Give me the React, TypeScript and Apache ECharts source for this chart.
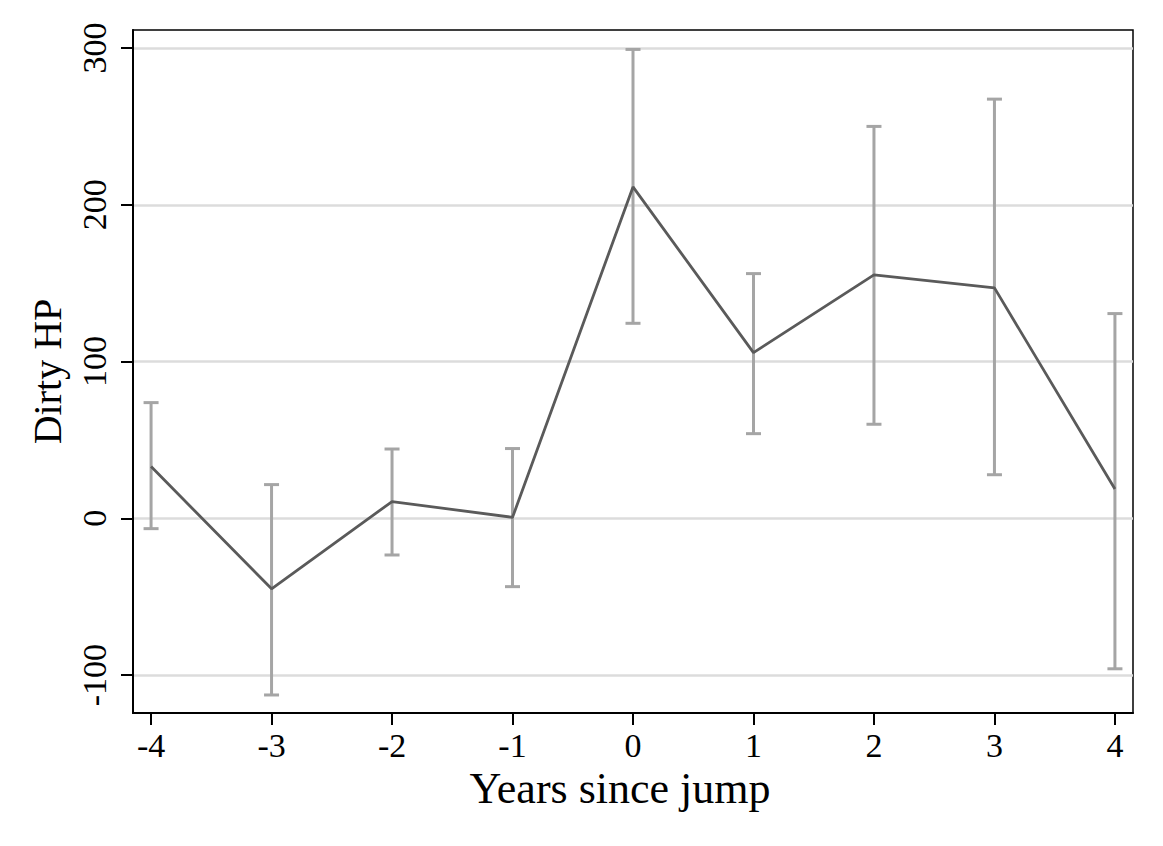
import React, { useEffect, useRef } from "react";
import * as echarts from "echarts";

const years = [-4, -3, -2, -1, 0, 1, 2, 3, 4];
const coef = [33, -45, 10.7, 0.6, 211.4, 105.7, 155.3, 147, 18.7];
const ciHigh = [73.8, 21.5, 44.2, 44.5, 299.1, 156.1, 250, 267.4, 130.6];
const ciLow = [-6.6, -112.7, -23.4, -43.6, 124.4, 54, 60, 27.8, -96];
const xTicks = [-4, -3, -2, -1, 0, 1, 2, 3, 4];
const yTicks = [-100, 0, 100, 200, 300];

const FONT = "'Liberation Serif', 'DejaVu Serif', serif";

export default function App() {
  const ref = useRef<HTMLDivElement>(null);
  useEffect(() => {
    if (!ref.current) return;
    const chart = echarts.init(ref.current, null, { renderer: "svg" });
    const lineData = years.map((y, i) => [y, coef[i]]);
    const ciData = years.map((y, i) => [y, ciLow[i], ciHigh[i]]);
    chart.setOption({
      animation: false,
      backgroundColor: "#ffffff",
      grid: {
        left: 133,
        top: 30,
        right: 30,
        bottom: 133,
        show: true,
        borderColor: "#000000",
        borderWidth: 1.5,
        backgroundColor: "transparent",
      },
      xAxis: {
        type: "value",
        min: -4.15,
        max: 4.15,
        name: "Years since jump",
        nameLocation: "middle",
        nameGap: 52,
        nameTextStyle: { fontFamily: FONT, fontSize: 44, color: "#000", padding: [0, 26, 0, 0] },
        axisLine: { show: true, onZero: false, lineStyle: { color: "#000", width: 2 } },
        axisTick: { show: true, inside: false, length: 12, customValues: xTicks, lineStyle: { color: "#000", width: 2 } },
        axisLabel: { customValues: xTicks, fontFamily: FONT, fontSize: 34, color: "#000", margin: 15 },
        splitLine: { show: false },
      },
      yAxis: {
        type: "value",
        min: -124.2,
        max: 311.5,
        name: "Dirty HP",
        nameLocation: "middle",
        nameGap: 66,
        nameTextStyle: { fontFamily: FONT, fontSize: 40, color: "#000" },
        axisLine: { show: true, onZero: false, lineStyle: { color: "#000", width: 2 } },
        axisTick: { show: true, inside: false, length: 12, customValues: yTicks, lineStyle: { color: "#000", width: 2 } },
        axisLabel: { customValues: yTicks, rotate: 90, fontFamily: FONT, fontSize: 34, color: "#000", margin: 22 },
        splitLine: { show: true, lineStyle: { color: "#dcdcdc", width: 2.5 } },
      },
      series: [
        {
          type: "custom",
          data: ciData,
          encode: { x: 0, y: [1, 2] },
          z: 2,
          renderItem: (params: any, api: any) => {
            const x = api.value(0);
            const lo = api.value(1);
            const hi = api.value(2);
            const pLo = api.coord([x, lo]);
            const pHi = api.coord([x, hi]);
            const cap = 7.5;
            const style = { stroke: "#a5a5a5", lineWidth: 3, fill: null };
            return {
              type: "group",
              children: [
                { type: "line", shape: { x1: pLo[0], y1: pLo[1], x2: pHi[0], y2: pHi[1] }, style },
                { type: "line", shape: { x1: pLo[0] - cap, y1: pLo[1], x2: pLo[0] + cap, y2: pLo[1] }, style },
                { type: "line", shape: { x1: pHi[0] - cap, y1: pHi[1], x2: pHi[0] + cap, y2: pHi[1] }, style },
              ],
            };
          },
        },
        {
          type: "line",
          data: lineData,
          z: 3,
          showSymbol: false,
          symbol: "none",
          lineStyle: { color: "#5a5a5a", width: 2.8 },
        },
      ],
    });
    return () => chart.dispose();
  }, []);
  return (
    <div
      ref={ref}
      style={{ position: "fixed", left: 0, top: 0, width: 1163, height: 846, background: "#fff" }}
    />
  );
}
